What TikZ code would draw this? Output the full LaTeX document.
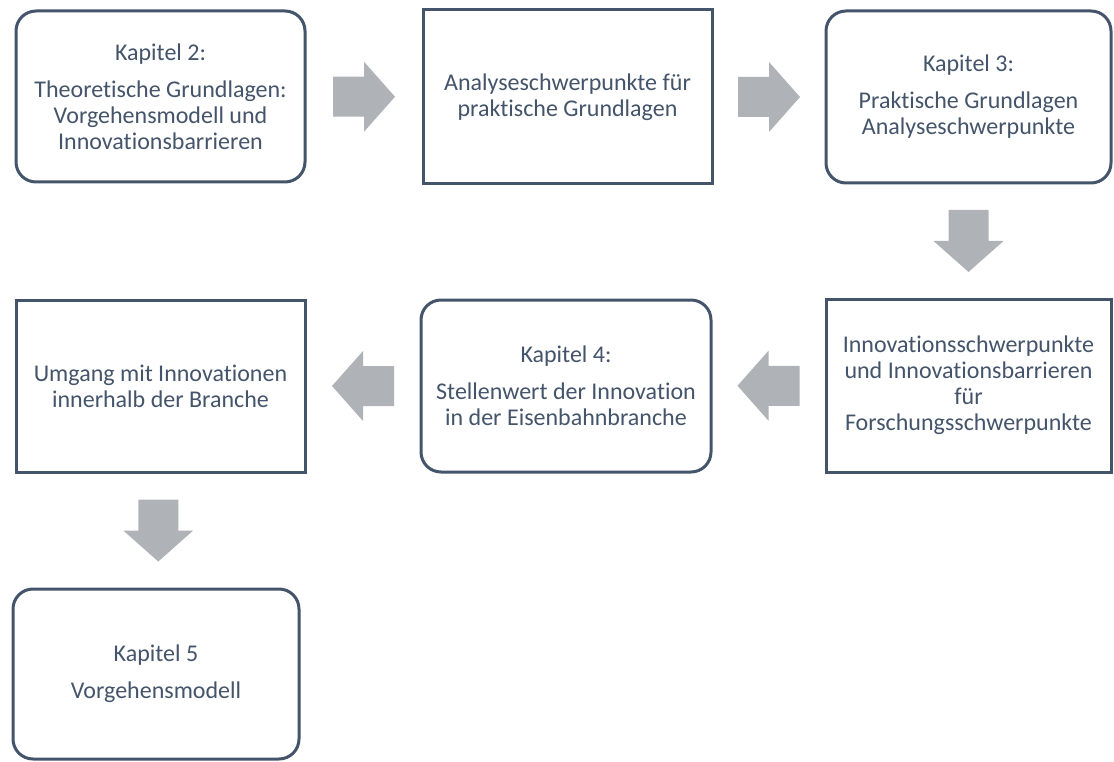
\documentclass[tikz,border=0pt]{standalone}
\usepackage{fontspec}
\setmainfont{Carlito}[Ligatures={NoCommon}]
\usetikzlibrary{calc}

\definecolor{slate}{HTML}{44546A}
\definecolor{arrowgray}{HTML}{AFB2B7}

\tikzset{
  box/.style={draw=slate, line width=3pt, fill=white, text=slate,
    align=center, inner sep=0pt,
    font=\fontsize{24}{26}\selectfont},
  roundbox/.style={box, rounded corners=20pt},
  squarebox/.style={box},
  pics/blockarr/.style={code={
    \fill[arrowgray] (-31,-20) -- (0,-20) -- (0,-35) -- (31,0)
      -- (0,35) -- (0,20) -- (-31,20) -- cycle;}}
}

\begin{document}
\begin{tikzpicture}[x=1pt, y=1pt]
  \useasboundingbox (0,0) rectangle (1114,-762);

  % top row
  \node[roundbox, minimum width=289pt, minimum height=171pt] (k2) at (160.5,-96.5)
    {Kapitel 2:\\[11pt]Theoretische Grundlagen:\\Vorgehensmodell und\\Innovationsbarrieren};
  \node[squarebox, minimum width=289pt, minimum height=174pt] (ana) at (567.5,-97)
    {Analyseschwerpunkte für\\praktische Grundlagen};
  \node[roundbox, minimum width=285pt, minimum height=172pt] (k3) at (968.5,-97)
    {Kapitel 3:\\[11pt]Praktische Grundlagen\\Analyseschwerpunkte};

  % middle row
  \node[squarebox, minimum width=285pt, minimum height=173pt] (inn) at (968.5,-385.5)
    {Innovationsschwerpunkte\\und Innovationsbarrieren\\für\\Forschungsschwerpunkte};
  \node[roundbox, minimum width=290pt, minimum height=172pt] (k4) at (566,-386)
    {Kapitel 4:\\[11pt]Stellenwert der Innovation\\in der Eisenbahnbranche};
  \node[squarebox, minimum width=289pt, minimum height=172pt] (umg) at (160.5,-386)
    {Umgang mit Innovationen\\innerhalb der Branche};

  % bottom row
  \node[roundbox, minimum width=286pt, minimum height=170pt] (k5) at (156,-674)
    {Kapitel 5\\[11pt]Vorgehensmodell};

  % block arrows between the boxes
  \pic at ($(k2.east)!0.5!(ana.west)$) {blockarr};
  \pic at ($(ana.east)!0.5!(k3.west)$) {blockarr};
  \pic[rotate=-90] at ($(k3.south)!0.5!(inn.north)$) {blockarr};
  \pic[rotate=180] at ($(inn.west)!0.5!(k4.east)$) {blockarr};
  \pic[rotate=180] at ($(k4.west)!0.5!(umg.east)$) {blockarr};
  \pic[rotate=-90] at ($(umg.south)!0.5!(k5.north)$) {blockarr};
\end{tikzpicture}
\end{document}
